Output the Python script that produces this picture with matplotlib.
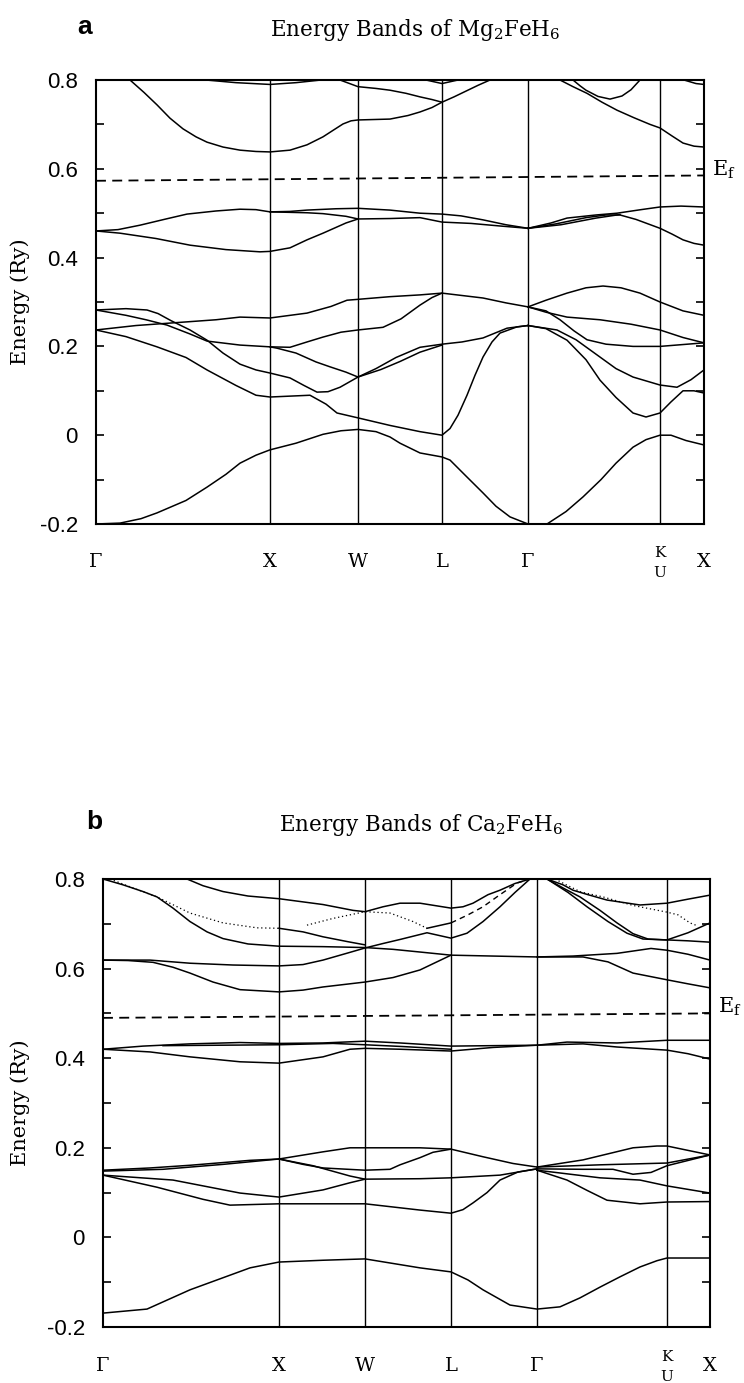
import matplotlib
matplotlib.use("Agg")
import matplotlib.pyplot as plt
from matplotlib.ticker import MultipleLocator
from matplotlib.transforms import blended_transform_factory

plt.rcParams["mathtext.fontset"] = "dejavuserif"

# symmetry points along the fcc path (plot units)
mg_kpts = [0, 174, 262, 346, 432, 564, 608]
ca_kpts = [0, 176, 262, 348, 434, 564, 607]
sym_labels = ["Γ", "X", "W", "L", "Γ", "K", "X"]
k_extra = "U"

# Fermi level (Ry), left and right end of the dashed line
mg_fermi = [0.573, 0.585]
ca_fermi = [0.490, 0.500]

# ---- Mg2FeH6 bands, (k, E in Ry) ----
mg_upper = [
    [(0, 0.8), (34, 0.8), (48, 0.772), (61, 0.744), (74, 0.714), (87, 0.69), (100, 0.672),
     (111, 0.66), (127, 0.649), (144, 0.642), (160, 0.639), (174, 0.638), (194, 0.642),
     (211, 0.654), (227, 0.672), (238, 0.688), (247, 0.701), (255, 0.708), (262, 0.71),
     (294, 0.712), (312, 0.72), (324, 0.728), (336, 0.738), (346, 0.75), (358, 0.762),
     (370, 0.775), (382, 0.788), (394, 0.8)],
    [(244, 0.8), (262, 0.785), (280, 0.781), (294, 0.777), (310, 0.77), (324, 0.762),
     (336, 0.756), (346, 0.75)],
    [(110, 0.8), (140, 0.794), (174, 0.79), (200, 0.794), (225, 0.8)],
    [(330, 0.8), (346, 0.792), (362, 0.8)],
    [(477, 0.8), (484, 0.787), (490, 0.777), (502, 0.763), (514, 0.757), (526, 0.764),
     (535, 0.778), (544, 0.8)],
    [(464, 0.8), (477, 0.785), (491, 0.77), (506, 0.75), (521, 0.732), (538, 0.715),
     (554, 0.7), (564, 0.692), (576, 0.674), (587, 0.658), (598, 0.651), (608, 0.649)],
    [(588, 0.8), (600, 0.792), (608, 0.79)],
]

mg_middle = [
    [(0, 0.46), (22, 0.463), (44, 0.473), (70, 0.487), (91, 0.498), (120, 0.505), (144, 0.509),
     (160, 0.508), (174, 0.503), (194, 0.504), (211, 0.507), (240, 0.51), (262, 0.511),
     (294, 0.507), (324, 0.50), (346, 0.498), (365, 0.494), (387, 0.485), (410, 0.474),
     (432, 0.466)],
    [(0, 0.46), (24, 0.455), (60, 0.443), (94, 0.428), (130, 0.418), (164, 0.413), (174, 0.414),
     (194, 0.422), (211, 0.44), (227, 0.455), (240, 0.468), (250, 0.478), (262, 0.487),
     (294, 0.488), (324, 0.49), (346, 0.48), (375, 0.477), (405, 0.471), (432, 0.466)],
    [(174, 0.503), (211, 0.501), (227, 0.499), (250, 0.493), (262, 0.487)],
    [(432, 0.466), (455, 0.478), (471, 0.489), (500, 0.496), (521, 0.5), (545, 0.508),
     (564, 0.514), (585, 0.516), (608, 0.514)],
    [(432, 0.466), (460, 0.476), (490, 0.49), (510, 0.496), (524, 0.496), (540, 0.486),
     (552, 0.476), (564, 0.466), (576, 0.453), (587, 0.44), (598, 0.432), (608, 0.428)],
    [(432, 0.466), (465, 0.474), (500, 0.489), (524, 0.497)],
]

mg_lower = [
    [(0, 0.282), (30, 0.285), (51, 0.282), (62, 0.274), (75, 0.258), (94, 0.237), (111, 0.214),
     (127, 0.185), (144, 0.16), (160, 0.147), (174, 0.14), (194, 0.129), (208, 0.112),
     (221, 0.097), (232, 0.098), (244, 0.108), (262, 0.131)],
    [(0, 0.282), (30, 0.27), (50, 0.26), (71, 0.248), (94, 0.228), (111, 0.212), (144, 0.203),
     (174, 0.199), (194, 0.198), (211, 0.21), (227, 0.221), (245, 0.232), (262, 0.237),
     (287, 0.243), (305, 0.262), (324, 0.293), (336, 0.31), (346, 0.32)],
    [(174, 0.199), (181, 0.196), (200, 0.185), (220, 0.165), (234, 0.154), (250, 0.142),
     (262, 0.131)],
    [(0, 0.237), (40, 0.247), (77, 0.253), (120, 0.26), (144, 0.266), (174, 0.264), (211, 0.275),
     (235, 0.29), (251, 0.304), (262, 0.306), (294, 0.312), (324, 0.316), (346, 0.32),
     (387, 0.309), (410, 0.298), (432, 0.289), (450, 0.304), (471, 0.32), (490, 0.332),
     (507, 0.336), (525, 0.332), (544, 0.32), (564, 0.30), (587, 0.28), (608, 0.27)],
    [(0, 0.237), (30, 0.222), (61, 0.199), (90, 0.175), (111, 0.147), (140, 0.112), (160, 0.09),
     (174, 0.086), (194, 0.088), (214, 0.09), (230, 0.07), (241, 0.05), (262, 0.039),
     (294, 0.022), (324, 0.008), (346, 0.0), (354, 0.015), (362, 0.045), (371, 0.09),
     (379, 0.135), (387, 0.176), (396, 0.21), (404, 0.23), (421, 0.244), (432, 0.247)],
    [(262, 0.131), (280, 0.15), (300, 0.175), (324, 0.198), (346, 0.205), (366, 0.21),
     (387, 0.219), (411, 0.241), (432, 0.247)],
    [(262, 0.131), (285, 0.148), (304, 0.166), (324, 0.187), (346, 0.203)],
    [(0, -0.2), (24, -0.198), (45, -0.188), (61, -0.175), (90, -0.147), (111, -0.117),
     (130, -0.088), (144, -0.063), (160, -0.045), (174, -0.033), (200, -0.018), (227, 0.002),
     (245, 0.01), (262, 0.013), (280, 0.008), (294, -0.004), (304, -0.018), (324, -0.04),
     (346, -0.049), (354, -0.056), (370, -0.092), (387, -0.13), (400, -0.16), (414, -0.184),
     (432, -0.2), (451, -0.2), (470, -0.172), (487, -0.139), (505, -0.1), (520, -0.063),
     (537, -0.027), (550, -0.01), (564, 0.0), (575, 0.0), (590, -0.012), (608, -0.022)],
    [(432, 0.289), (450, 0.277), (471, 0.266), (504, 0.26), (535, 0.25), (564, 0.237),
     (587, 0.22), (608, 0.208)],
    [(432, 0.289), (450, 0.28), (464, 0.26), (478, 0.235), (491, 0.215), (510, 0.205),
     (537, 0.2), (564, 0.2), (608, 0.208)],
    [(432, 0.247), (461, 0.237), (480, 0.215), (504, 0.176), (520, 0.15), (537, 0.131),
     (564, 0.113), (581, 0.108), (595, 0.125), (608, 0.147)],
    [(432, 0.247), (450, 0.24), (471, 0.214), (490, 0.17), (504, 0.124), (520, 0.085),
     (537, 0.05), (550, 0.041), (564, 0.05), (575, 0.075), (587, 0.1), (598, 0.1), (608, 0.095)],
]

# ---- Ca2FeH6 bands ----
ca_upper = [
    [(0, 0.8), (20, 0.787), (40, 0.772), (54, 0.76), (70, 0.735), (87, 0.705), (104, 0.682),
     (120, 0.667), (145, 0.655), (176, 0.65), (220, 0.649), (262, 0.647), (290, 0.643),
     (317, 0.637), (348, 0.63), (390, 0.628), (434, 0.626), (470, 0.628), (514, 0.634),
     (548, 0.645), (564, 0.641), (585, 0.632), (607, 0.619)],
    [(84, 0.8), (100, 0.785), (120, 0.772), (145, 0.762), (176, 0.756), (220, 0.743),
     (250, 0.73), (262, 0.727), (280, 0.738), (297, 0.746), (317, 0.746), (348, 0.735),
     (360, 0.738), (370, 0.746), (385, 0.765), (397, 0.775), (412, 0.79), (427, 0.8)],
    [(0, 0.619), (47, 0.619), (87, 0.612), (130, 0.608), (176, 0.606), (200, 0.609),
     (220, 0.619), (245, 0.635), (262, 0.646), (280, 0.656), (297, 0.665), (324, 0.68),
     (348, 0.668), (364, 0.679), (380, 0.705), (397, 0.738), (412, 0.77), (427, 0.8)],
    [(0, 0.619), (25, 0.618), (50, 0.614), (70, 0.603), (87, 0.59), (110, 0.57), (137, 0.553),
     (176, 0.548), (200, 0.552), (220, 0.559), (262, 0.57), (290, 0.58), (317, 0.597),
     (332, 0.613), (348, 0.63)],
    [(434, 0.626), (480, 0.626), (505, 0.615), (530, 0.59), (564, 0.575), (585, 0.566),
     (607, 0.557)],
    [(176, 0.69), (200, 0.682), (220, 0.671), (245, 0.66), (262, 0.653)],
    [(444, 0.8), (460, 0.787), (470, 0.775), (485, 0.765), (504, 0.753), (537, 0.742),
     (564, 0.746), (585, 0.755), (607, 0.764)],
    [(444, 0.8), (460, 0.78), (477, 0.76), (497, 0.73), (514, 0.702), (530, 0.678),
     (545, 0.666), (564, 0.664), (585, 0.662), (607, 0.659)],
    [(444, 0.8), (465, 0.77), (484, 0.738), (505, 0.705), (524, 0.679), (540, 0.666),
     (564, 0.664), (585, 0.68), (607, 0.702)],
    [(324, 0.69), (348, 0.702)],
]

ca_dotted = [
    [(7, 0.8), (30, 0.78), (54, 0.76), (87, 0.724), (120, 0.702), (154, 0.691), (176, 0.69)],
    [(204, 0.697), (230, 0.712), (262, 0.727), (287, 0.724), (310, 0.705), (324, 0.69)],
    [(452, 0.8), (465, 0.785), (478, 0.771), (500, 0.76), (530, 0.741), (564, 0.726),
     (575, 0.72), (587, 0.702), (595, 0.695)],
]

ca_dashed = [
    [(348, 0.702), (365, 0.72), (380, 0.738), (397, 0.765), (414, 0.791), (427, 0.8)],
]

ca_middle = [
    [(0, 0.42), (40, 0.427), (87, 0.432), (137, 0.435), (176, 0.433), (220, 0.434),
     (262, 0.438), (297, 0.434), (348, 0.427), (390, 0.428), (434, 0.429), (464, 0.436),
     (514, 0.434), (564, 0.44), (607, 0.44)],
    [(0, 0.42), (47, 0.414), (87, 0.403), (137, 0.392), (176, 0.389), (220, 0.403),
     (247, 0.42), (262, 0.422), (297, 0.42), (348, 0.416), (390, 0.424), (434, 0.429),
     (480, 0.432), (514, 0.425), (564, 0.418), (585, 0.41), (607, 0.398)],
    [(60, 0.428), (176, 0.43), (230, 0.433), (262, 0.43), (300, 0.426), (348, 0.42)],
]

ca_lower = [
    [(0, 0.15), (47, 0.155), (87, 0.161), (147, 0.172), (176, 0.175), (220, 0.191),
     (247, 0.2), (262, 0.2), (317, 0.2), (348, 0.197), (380, 0.18), (410, 0.165),
     (434, 0.157), (480, 0.173), (530, 0.2), (554, 0.204), (564, 0.204), (607, 0.184)],
    [(0, 0.148), (60, 0.152), (120, 0.163), (176, 0.175), (200, 0.163), (220, 0.155),
     (262, 0.15), (287, 0.152), (297, 0.162), (317, 0.178), (330, 0.19), (348, 0.197)],
    [(176, 0.175), (210, 0.16), (247, 0.137), (262, 0.13), (317, 0.131), (348, 0.133),
     (397, 0.139), (434, 0.153)],
    [(0, 0.139), (70, 0.128), (137, 0.099), (176, 0.09), (220, 0.106), (247, 0.122),
     (262, 0.13)],
    [(0, 0.139), (54, 0.112), (100, 0.085), (127, 0.072), (176, 0.075), (262, 0.075),
     (317, 0.061), (348, 0.054), (360, 0.062), (370, 0.077), (384, 0.1), (397, 0.128),
     (415, 0.146), (434, 0.153)],
    [(0, -0.169), (44, -0.16), (87, -0.117), (147, -0.068), (176, -0.055), (220, -0.051),
     (262, -0.048), (317, -0.068), (348, -0.077), (365, -0.095), (380, -0.117),
     (407, -0.151), (434, -0.16), (457, -0.155), (477, -0.135), (497, -0.111),
     (517, -0.088), (537, -0.066), (554, -0.052), (564, -0.046), (607, -0.046)],
    [(434, 0.157), (497, 0.162), (564, 0.166), (607, 0.184)],
    [(434, 0.153), (480, 0.152), (510, 0.152), (530, 0.141), (548, 0.145), (564, 0.16),
     (607, 0.184)],
    [(434, 0.15), (497, 0.133), (537, 0.128), (564, 0.115), (607, 0.099)],
    [(434, 0.15), (464, 0.128), (484, 0.105), (504, 0.083), (537, 0.075), (564, 0.079),
     (607, 0.08)],
]

SERIF = "DejaVu Serif"
SANS = "Liberation Sans"


def draw_bands(ax, bands, **style):
    for band in bands:
        ks, es = zip(*band)
        ax.plot(ks, es, color="black", solid_joinstyle="round", **style)


def setup_panel(ax, kpts, fermi, ef_y):
    ax.set_xlim(kpts[0], kpts[-1])
    ax.set_ylim(-0.2, 0.8)

    for k in kpts[1:-1]:
        ax.axvline(k, color="black", lw=1.0, zorder=1)

    ax.plot([kpts[0], kpts[-1]], fermi, color="black", lw=1.3, ls=(0, (5.5, 3.5)))

    for side in ax.spines.values():
        side.set_linewidth(1.5)

    ax.yaxis.set_major_locator(MultipleLocator(0.2))
    ax.yaxis.set_minor_locator(MultipleLocator(0.1))
    ax.tick_params(axis="y", which="both", direction="in", left=True, right=True,
                   length=6, width=1.2, pad=13, labelsize=16)
    ax.set_yticks([0.8, 0.6, 0.4, 0.2, 0.0, -0.2])
    ax.set_yticklabels(["0.8", "0.6", "0.4", "0.2", "0", "-0.2"], fontfamily=SANS)
    ax.set_xticks([])

    lab_tr = blended_transform_factory(ax.transData, ax.transAxes)
    for k, name in zip(kpts, sym_labels):
        if name == "K":
            ax.text(k, -0.066, "K", transform=lab_tr, ha="center", va="center",
                    fontsize=11, fontfamily=SERIF)
            ax.text(k, -0.111, k_extra, transform=lab_tr, ha="center", va="center",
                    fontsize=11, fontfamily=SERIF)
        else:
            ax.text(k, -0.086, name, transform=lab_tr, ha="center", va="center",
                    fontsize=14, fontfamily=SERIF)

    ef_tr = blended_transform_factory(ax.transAxes, ax.transData)
    ax.text(1.013, ef_y, r"E$_{\rm f}$", transform=ef_tr, ha="left", va="center",
            fontsize=15, fontfamily=SERIF, clip_on=False)


W, H = 744, 1383
fig = plt.figure(figsize=(W / 100, H / 100), dpi=100)

ax_a = fig.add_axes([96 / W, 1 - 524 / H, 608 / W, 444 / H])
ax_b = fig.add_axes([103 / W, 1 - 1327 / H, 607 / W, 448 / H])

# panel a: Mg2FeH6
setup_panel(ax_a, mg_kpts, mg_fermi, 0.598)
draw_bands(ax_a, mg_upper + mg_middle + mg_lower, lw=1.1)

# panel b: Ca2FeH6
setup_panel(ax_b, ca_kpts, ca_fermi, 0.514)
draw_bands(ax_b, ca_upper + ca_middle + ca_lower, lw=1.1)
draw_bands(ax_b, ca_dotted, lw=0.9, ls=(0, (1, 2.2)))
draw_bands(ax_b, ca_dashed, lw=1.0, ls=(0, (4, 3)))

for ax in (ax_a, ax_b):
    box = ax.get_position()
    fig.text(20 / W, box.y0 + box.height / 2, "Energy (Ry)", rotation=90,
             ha="center", va="center", fontsize=15, fontfamily=SERIF)

fig.text(85 / W, 1 - 27 / H, "a", fontsize=19, fontweight="bold", fontfamily=SANS,
         ha="center", va="center")
fig.text(415 / W, 1 - 30 / H, r"Energy Bands of Mg$_2$FeH$_6$", fontsize=15.5,
         fontfamily=SERIF, ha="center", va="center")
fig.text(94 / W, 1 - 822 / H, "b", fontsize=19, fontweight="bold", fontfamily=SANS,
         ha="center", va="center")
fig.text(421 / W, 1 - 825 / H, r"Energy Bands of Ca$_2$FeH$_6$", fontsize=15.5,
         fontfamily=SERIF, ha="center", va="center")

fig.savefig("out.png", dpi=100)
